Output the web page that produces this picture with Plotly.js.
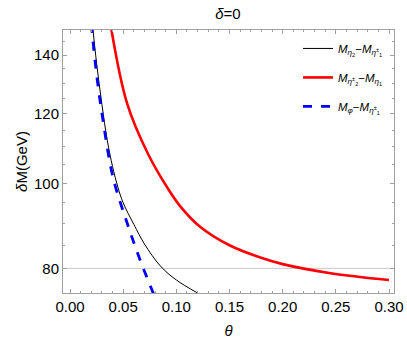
<!DOCTYPE html>
<html>
<head>
<meta charset="utf-8">
<script src="https://cdn.plot.ly/plotly-3.0.1.min.js"></script>
<style>
  body { margin: 0; background: #fff; }
  #chart { width: 407px; height: 349px; }
</style>
</head>
<body>
<div id="chart"></div>
<script>
// values
var thetaA = [0.021, 0.025, 0.030, 0.035, 0.040, 0.045, 0.050, 0.060, 0.070, 0.085, 0.100, 0.12];
var dmA    = [152, 137, 123, 112, 104.5, 99, 95, 89.8, 85.3, 80.5, 77.6, 75.0];

var thetaB = [0.038, 0.0536, 0.0734, 0.094, 0.1035, 0.122, 0.15, 0.179, 0.20, 0.245, 0.30];
var dmB    = [152, 123.4, 108, 97.8, 94.2, 89.3, 85.0, 82.3, 80.9, 79.0, 77.6];

var thetaC = [0.020, 0.025, 0.031, 0.0405, 0.0536, 0.0659, 0.079];
var dmC    = [152, 133, 118, 101.5, 90.2, 81.8, 74.6];

var names = [
  '<i>M</i><sub><i>η</i><sub>2</sub></sub>−<i>M</i><sub><i>η</i><sup>±</sup><sub>1</sub></sub>',
  '<i>M</i><sub><i>η</i><sup>±</sup><sub>2</sub></sub>−<i>M</i><sub><i>η</i><sub>1</sub></sub>',
  '<i>M</i><sub><i>φ</i></sub>−<i>M</i><sub><i>η</i><sup>±</sup><sub>1</sub></sub>'
];

var xMajor = [0, 0.05, 0.10, 0.15, 0.20, 0.25, 0.30];
var xLabels = ['0.00', '0.05', '0.10', '0.15', '0.20', '0.25', '0.30'];
var yMajor = [80, 100, 120, 140];
var yMinor = [75, 85, 90, 95, 105, 110, 115, 125, 130, 135, 145];

var frame = '#a0a0a0';

var data = [
  {x: thetaA, y: dmA, name: names[0], type: 'scatter', mode: 'lines',
   line: {color: 'black', width: 1, shape: 'spline'}, legendgroup: 'a'},
  {x: thetaB, y: dmB, name: names[1], type: 'scatter', mode: 'lines',
   line: {color: '#ff0000', width: 2.6, shape: 'spline'}, legendgroup: 'b'},
  {x: thetaC, y: dmC, name: names[2], type: 'scatter', mode: 'lines',
   line: {color: '#0000ff', width: 2.8, dash: 'dash', shape: 'spline'}, legendgroup: 'c'}
];

var layout = {
  width: 407, height: 349,
  margin: {l: 63, r: 13, t: 30, b: 56},
  paper_bgcolor: 'white', plot_bgcolor: 'white',
  font: {family: 'Liberation Sans, Arial, sans-serif', color: 'black', size: 15},
  title: {text: '<i>δ</i>=0', x: 0.56, xanchor: 'center', y: 0.975, yanchor: 'top',
          font: {size: 15}},
  showlegend: true,
  legend: {x: 0.71, y: 0.985, xanchor: 'left', yanchor: 'top', bgcolor: 'rgba(0,0,0,0)',
           font: {size: 11.5}, tracegroupgap: 10, itemwidth: 30},
  xaxis: {
    range: [-0.0066, 0.3047], showgrid: false, zeroline: false,
    showline: true, linecolor: frame, linewidth: 1, mirror: 'ticks',
    ticks: 'inside', ticklen: 4, tickcolor: frame,
    tickvals: xMajor, ticktext: xLabels,
    minor: {ticks: 'inside', ticklen: 2, tickcolor: frame, dtick: 0.01, tick0: 0, showgrid: false},
    title: {text: '<i>θ</i>', standoff: 11, font: {size: 15}}
  },
  yaxis: {
    type: 'log', range: [Math.log10(75), Math.log10(149.5)],
    showgrid: false, zeroline: false,
    showline: true, linecolor: frame, linewidth: 1, mirror: 'ticks',
    ticks: 'inside', ticklen: 4, tickcolor: frame,
    tickvals: yMajor, ticktext: yMajor.map(String),
    minor: {ticks: 'inside', ticklen: 2, tickcolor: frame, tickvals: yMinor, showgrid: false},
    title: {text: '<i>δ</i>M(GeV)', standoff: 2, font: {size: 15}}
  },
  shapes: [{type: 'line', xref: 'paper', x0: 0, x1: 1, yref: 'y', y0: 80, y1: 80,
            line: {color: '#c8c8c8', width: 1}, layer: 'below'}]
};

Plotly.newPlot('chart', data, layout, {displayModeBar: false, staticPlot: true});
</script>
</body>
</html>
